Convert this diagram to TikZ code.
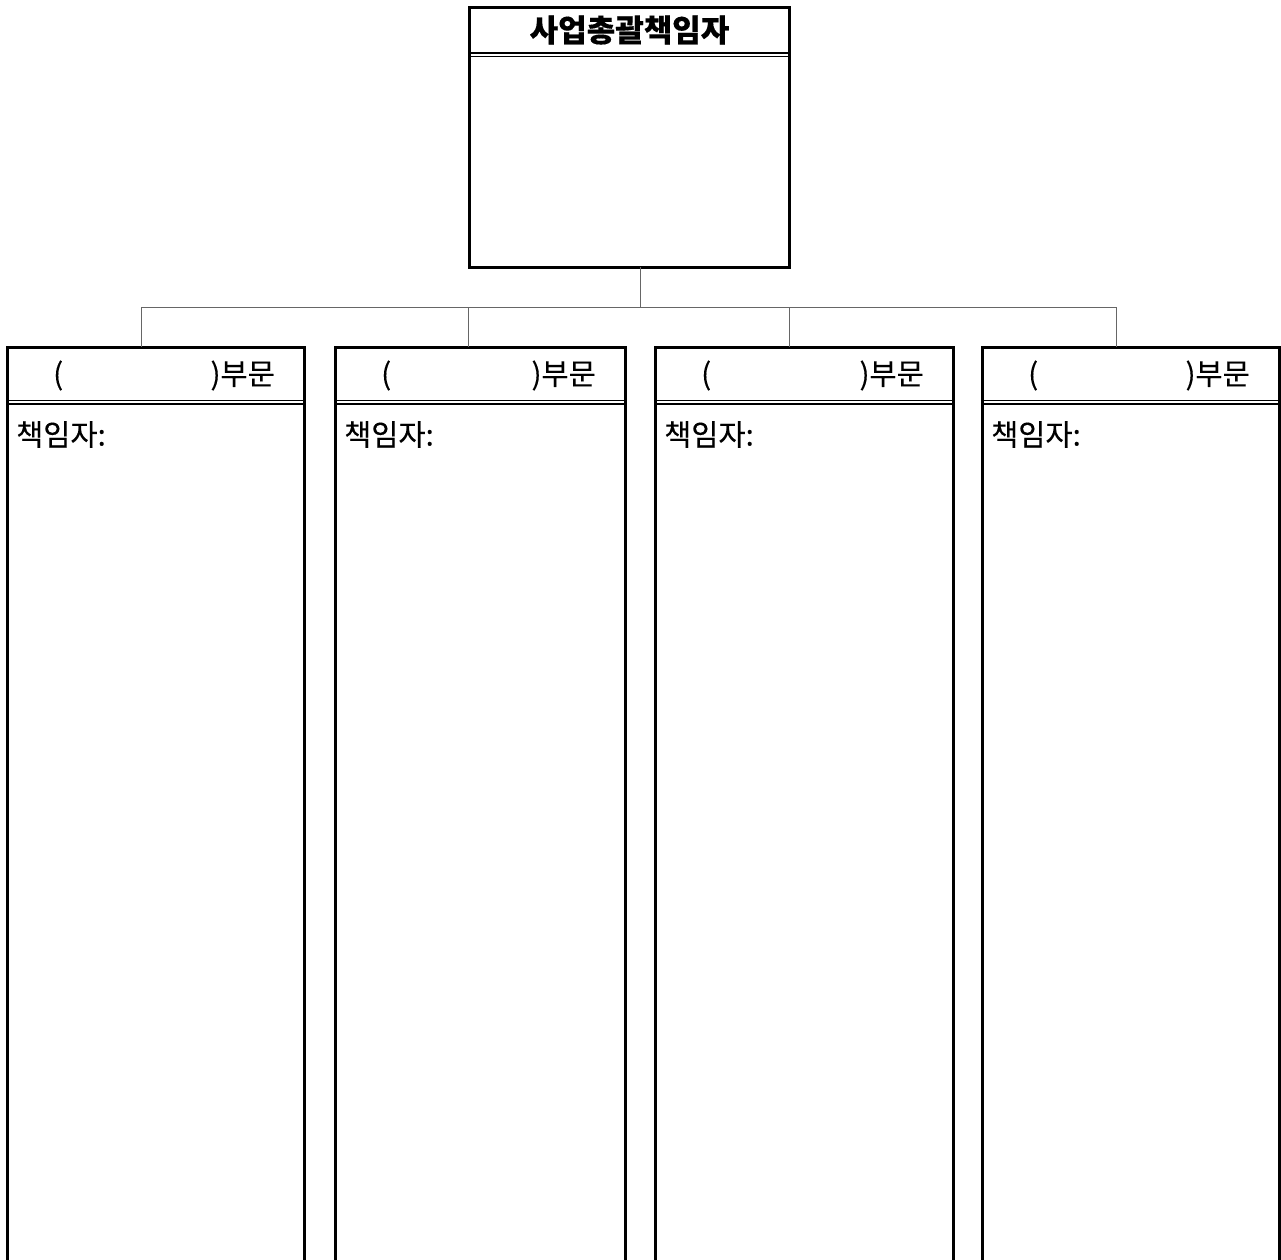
\documentclass[tikz,border=0pt]{standalone}
\usepackage{fontspec}
\setmainfont{Noto Sans CJK KR}[FakeBold=0.3]
\begin{document}
\begin{tikzpicture}[x=1pt,y=-1pt,
  box/.style={draw, line width=3pt, rectangle, inner sep=0pt, outer sep=0pt, anchor=north west},
  conn/.style={draw=black!60, line width=1pt},
  dbl/.style={line width=1.3pt},
  txt/.style={font=\fontsize{29.5}{32}\selectfont, inner sep=0pt},
  ttl/.style={font=\fontsize{31}{34}\selectfont\bfseries, inner sep=0pt}
]
\useasboundingbox (0,0) rectangle (1281,1259);
\clip (0,0) rectangle (1281,1259);
% top box
\node[box, minimum width=320pt, minimum height=260pt] (top) at (469,7) {};
\draw[dbl] (top.west |- 0,53) -- (top.east |- 0,53);
\draw[dbl] (top.west |- 0,56.5) -- (top.east |- 0,56.5);
\node[ttl] (title) at (629.5,30) {사업총괄책임자};
% department boxes
\node[box, minimum width=297pt, minimum height=940pt] (b1) at (7,347) {};
\node[box, minimum width=290pt, minimum height=940pt] (b2) at (335,347) {};
\node[box, minimum width=298pt, minimum height=940pt] (b3) at (655,347) {};
\node[box, minimum width=297pt, minimum height=940pt] (b4) at (982,347) {};
\foreach \b in {b1,b2,b3,b4}{
  \draw[dbl] (\b.west |- 0,400.7) -- (\b.east |- 0,400.7);
  \draw[dbl] (\b.west |- 0,404) -- (\b.east |- 0,404);
  \node[txt, anchor=west] (\b open) at ([xshift=46pt]\b.west |- 0,375.5) {(};
  \node[txt, anchor=east] (\b dept) at ([xshift=-29pt]\b.east |- 0,375.5) {)부문};
  \node[txt, anchor=west] (\b head) at ([xshift=9pt]\b.west |- 0,434.5) {책임자:};
}
% connectors
\coordinate (hub) at (640,307);
\coordinate (d1) at (141,307);
\coordinate (d2) at (468,307);
\coordinate (d3) at (789,307);
\coordinate (d4) at (1116,307);
\draw[conn] (top.south -| hub) -- (hub);
\draw[conn] (d1) -- (d4);
\draw[conn] (d1) -- (b1.north -| d1);
\draw[conn] (d2) -- (b2.north -| d2);
\draw[conn] (d3) -- (b3.north -| d3);
\draw[conn] (d4) -- (b4.north -| d4);
\end{tikzpicture}
\end{document}
